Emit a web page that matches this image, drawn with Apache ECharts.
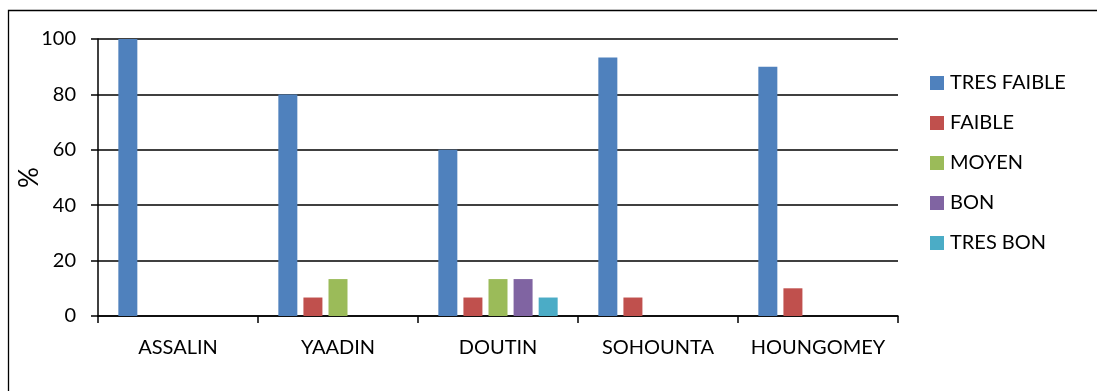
<!DOCTYPE html>
<html>
<head>
<meta charset="utf-8">
<script src="https://cdn.jsdelivr.net/npm/echarts@6/dist/echarts.min.js"></script>
<style>
  html, body { margin: 0; padding: 0; background: #fff; }
  #chart { width: 1097px; height: 391px; }
</style>
</head>
<body>
<div id="chart"></div>
<script>
// Sites (x-axis categories)
const sites = ['ASSALIN', 'YAADIN', 'DOUTIN', 'SOHOUNTA', 'HOUNGOMEY'];

// Share of each rating level per site (%)
const tresFaible = [100, 80, 60, 93.33, 90];
const faible     = [0, 6.67, 6.67, 6.67, 10];
const moyen      = [0, 13.33, 13.33, 0, 0];
const bon        = [0, 0, 13.33, 0, 0];
const tresBon    = [0, 0, 6.67, 0, 0];

const seriesNames = ['TRES FAIBLE', 'FAIBLE', 'MOYEN', 'BON', 'TRES BON'];
const seriesData = [tresFaible, faible, moyen, bon, tresBon];
const colors = ['#4F81BD', '#C0504D', '#9BBB59', '#8064A2', '#4BACC6'];

const font = 'Lato, "Open Sans", sans-serif';

const chart = echarts.init(document.getElementById('chart'), null, { renderer: 'canvas' });

chart.setOption({
  animation: false,
  backgroundColor: '#fff',
  color: colors,
  graphic: [{
    type: 'rect',
    shape: { x: 8.5, y: 10.5, width: 1200, height: 500 },
    style: { fill: 'none', stroke: '#000', lineWidth: 1.3 },
    silent: true
  }],
  grid: { left: 98, right: 199, top: 39, bottom: 75, containLabel: false },
  legend: {
    orient: 'vertical',
    left: 925,
    top: 68,
    itemWidth: 14,
    itemHeight: 14,
    itemGap: 20,
    icon: 'rect',
    textStyle: { fontFamily: font, fontSize: 20, lineHeight: 20, color: '#000', padding: [0, 0, 0, 1] },
    data: seriesNames
  },
  xAxis: {
    type: 'category',
    data: sites,
    axisLine: { lineStyle: { color: '#000', width: 1.5 } },
    axisTick: { show: true, interval: 0, length: 7, lineStyle: { color: '#000', width: 1.5 } },
    axisLabel: { interval: 0, fontFamily: font, fontSize: 20, color: '#000', margin: 22 }
  },
  yAxis: {
    type: 'value',
    min: 0,
    max: 100,
    interval: 20,
    name: '%',
    nameLocation: 'middle',
    nameRotate: 90,
    nameGap: 55,
    nameMoveOverlap: false,
    nameTextStyle: { fontFamily: font, fontSize: 26, color: '#000' },
    axisLine: { show: true, lineStyle: { color: '#000', width: 1.5 } },
    axisTick: { show: true, length: 7, lineStyle: { color: '#000', width: 1.5 } },
    axisLabel: { fontFamily: font, fontSize: 20, color: '#000', margin: 22 },
    splitLine: { show: true, lineStyle: { color: '#000', width: 1.5 } }
  },
  series: seriesNames.map((name, i) => ({
    name: name,
    type: 'bar',
    data: seriesData[i],
    barWidth: 19,
    barGap: '32%',
    itemStyle: { color: colors[i] }
  }))
});
</script>
</body>
</html>
